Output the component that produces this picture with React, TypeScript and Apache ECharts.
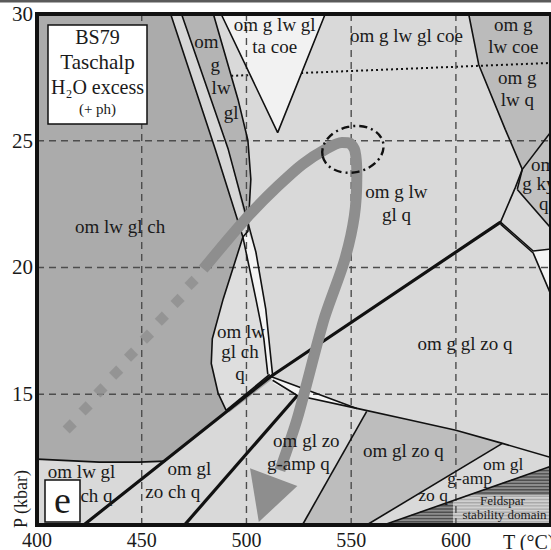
import React, { useEffect, useRef } from "react";
import * as echarts from "echarts";

const T_MIN = 400;
const T_MAX = 645.4;
const P_MIN = 9.84;
const P_MAX = 30;

const xTickValues = [400, 450, 500, 550, 600];
const yTickValues = [15, 20, 25, 30];
const xGridValues = [450, 500, 550, 600];
const yGridValues = [15, 20, 25];

// ---- field polygons (T °C, P kbar) ----
const regLightStrip = [[463.8, 30], [469.0, 30], [491.3, 24.66], [500.7, 21.43], [498.3, 21.2], [485.1, 24.66]];
const regOmLwGlCh = [[400, 30], [463.8, 30], [485.1, 24.66], [498.3, 21.2], [488.9, 18.76], [483.7, 17.19], [483.2, 16.21], [486.5, 15.03], [490.3, 14.36], [461.5, 12.36], [448.7, 12.32], [429.8, 12.32], [400, 12.44]];
const regOmGLwGl = [[469.0, 30], [484.2, 30], [496.0, 26.62], [500.7, 25.01], [502.1, 23.48], [500.7, 21.43], [491.3, 24.66]];
const regWhiteStrip = [[498.3, 21.2], [500.7, 21.43], [504.5, 20.61], [509.2, 18.37], [512.5, 15.74], [510.2, 15.78], [508.3, 17.19], [504.5, 18.76]];
const regLens = [[498.3, 21.2], [504.5, 18.76], [508.3, 17.19], [510.2, 15.78], [490.3, 14.36], [486.5, 15.03], [483.2, 16.21], [483.7, 17.19], [488.9, 18.76]];
const regSmallStrip = [[490.3, 14.36], [511.1, 15.78], [512.1, 15.58], [491.7, 14.28]];
const regWhiteWedge = [[511.6, 15.7], [552.7, 14.44], [524.3, 14.95], [513.0, 15.42]];
const regOmGLwCoe = [[606.1, 30], [645.4, 30], [645.4, 25.36], [631.7, 23.87], [623.6, 25.44], [610.9, 28.0]];
const regOmGKyQ = [[631.7, 23.87], [645.4, 25.36], [645.4, 21.55], [629.3, 23.08]];
const regWhiteRight = [[636.9, 20.65], [645.4, 20.73], [645.4, 18.92]];
const regOmGlZoQ = [[557.4, 14.32], [576.4, 14.01], [600, 13.58], [622.2, 13.06], [557.4, 9.84], [526.7, 9.84]];
const regFeldspar = [[565.5, 9.84], [645.4, 12.16], [645.4, 9.84]];
const regFeldsparBox = [[598.6, 10.76], [607.1, 11.02], [645.4, 11.02], [645.4, 9.84], [598.6, 9.84]];
const regTaCoe = [[487.9, 30], [537.6, 30], [514.9, 25.32]];

// ---- boundaries ----
const bMain = [[421.7, 9.8], [511.6, 15.7], [621.3, 21.79]];
const bSecond = [[470.0, 9.8], [524.3, 14.95]];
const bL1 = [[463.8, 30], [485.1, 24.66], [498.3, 21.2], [504.5, 18.76], [508.3, 17.19], [510.2, 15.78]];
const bL2 = [[469.0, 30], [491.3, 24.66], [504.5, 20.61], [509.2, 18.37], [512.5, 15.74]];
const bL3 = [[484.2, 30], [496.0, 26.62], [500.7, 25.01], [502.1, 23.48], [500.7, 21.43], [498.3, 21.2], [488.9, 18.76], [483.7, 17.19], [483.2, 16.21], [486.5, 15.03], [490.3, 14.36]];
const bStripTop = [[490.3, 14.36], [511.1, 15.78]];
const bV = [[487.9, 30], [514.9, 25.32], [537.6, 30]];
const bZoTop = [[511.6, 15.7], [552.7, 14.44], [576.4, 14.01], [600, 13.58], [622.2, 13.06], [645.4, 12.5]];
const bWedgeLow = [[512.5, 15.55], [524.3, 14.95], [552.7, 14.44]];
const bZoLeft = [[557.4, 14.32], [526.7, 9.84]];
const bZoRight = [[622.2, 13.06], [557.4, 9.84]];
const bFeldspar = [[565.5, 9.84], [645.4, 12.16]];
const bLowCurve = [[400, 12.44], [429.8, 12.32], [448.7, 12.32], [461.5, 12.36]];
const bUR1 = [[606.1, 30], [610.9, 28.0], [623.6, 25.44], [631.7, 23.87], [629.3, 23.08]];
const bUR2 = [[645.4, 25.36], [631.7, 23.87], [628.4, 23.16], [621.3, 21.79]];
const bKy = [[629.3, 23.08], [645.4, 21.55]];
const bLRa = [[621.3, 21.79], [636.9, 20.65], [645.4, 20.73]];
const bLRb = [[621.3, 21.71], [636.9, 20.57], [645.4, 18.92]];
const bDotted = [[492.7, 27.56], [645.4, 28.07]];

// ---- P-T path ----
const pathDots = [[415.6, 13.73], [423.2, 14.44], [430.3, 15.15], [437.8, 15.85], [444.9, 16.56], [452.5, 17.27], [459.6, 17.98], [467.1, 18.68], [473.8, 19.39]];
const pathSolid = [[479.4, 19.94], [491.3, 21.12], [502.1, 22.14], [514.9, 23.2], [526.7, 24.07], [538.5, 24.7], [545.6, 24.93], [549.4, 24.9], [551.8, 24.6], [552.7, 23.67], [551.5, 22.02], [546.6, 20.22], [537.1, 17.98], [524.3, 14.05], [516.0, 12.0]];
const arrowHead = [[501.7, 12.08], [524.3, 11.38], [505.9, 9.96]];
const peakEllipse = [[550.8, 24.66]];

// ---- field labels ----
const fieldLabels: [number, number, string][] = [
  [513.5, 29.57, "om g lw gl"],
  [513.5, 28.7, "ta coe"],
  [576.4, 29.14, "om g lw gl coe"],
  [627.4, 29.57, "om g"],
  [627.4, 28.7, "lw coe"],
  [629.3, 27.49, "om g"],
  [629.3, 26.62, "lw q"],
  [571.6, 23.01, "om g lw"],
  [571.6, 22.1, "gl q"],
  [439.7, 21.63, "om lw gl ch"],
  [480.9, 28.9, "om"],
  [485.1, 28.0, "g"],
  [487.9, 27.09, "lw"],
  [492.7, 26.11, "gl"],
  [497.4, 17.47, "om lw"],
  [496.9, 16.68, "gl ch"],
  [496.9, 15.82, "q"],
  [604.3, 17.0, "om g gl zo q"],
  [528.6, 13.18, "om gl zo"],
  [524.8, 12.28, "g-amp q"],
  [574.9, 12.79, "om gl zo q"],
  [421.3, 11.96, "om lw gl"],
  [428.4, 11.02, "ch q"],
  [472.8, 12.08, "om gl"],
  [464.8, 11.18, "zo ch q"],
];
const wedgeLabels: [number, number, string][] = [
  [622.6, 12.24, "om gl"],
  [606.6, 11.69, "g-amp"],
  [589.1, 11.02, "zo q"],
];
const edgeLabels: [number, number, string][] = [
  [635.9, 24.07, "om"],
  [631.7, 23.32, "g ky"],
  [639.7, 22.53, "q"],
];
const smallLabels: [number, number, string][] = [
  [622.2, 10.79, "Feldspar"],
  [623.2, 10.24, "stability domain"],
];

const SERIF = '"Liberation Serif", "DejaVu Serif", serif';

function polySeries(list: { pts: number[][]; fill: string }[], z: number) {
  return {
    type: "custom",
    z,
    silent: true,
    clip: true,
    data: list.map(() => [T_MIN, P_MIN]),
    renderItem: (params: any, api: any) => {
      const r = list[params.dataIndex];
      return {
        type: "polygon",
        shape: { points: r.pts.map((p) => api.coord(p)) },
        style: { fill: r.fill, stroke: "none" },
      };
    },
  };
}

function hatchSeries(pts: number[][], slope: number[][], base: string, stripe: string, leftT: number | null, z: number) {
  return {
    type: "custom",
    z,
    silent: true,
    clip: true,
    data: [[T_MIN, P_MIN]],
    renderItem: (params: any, api: any) => {
      const a = api.coord(slope[0]);
      const b = api.coord(slope[1]);
      const poly = pts.map((p) => api.coord(p));
      const bottom = api.coord([T_MIN, P_MIN])[1];
      const right = api.coord([T_MAX, P_MIN])[0];
      let top = Infinity;
      poly.forEach((p: number[]) => (top = Math.min(top, p[1])));
      const leftX = leftT == null ? -Infinity : api.coord([leftT, P_MIN])[0];
      const children: any[] = [
        { type: "polygon", shape: { points: poly }, style: { fill: base } },
      ];
      for (let y = top + 1.2; y < bottom; y += 3.2) {
        const t = (a[1] - y) / (a[1] - b[1]);
        const xs = Math.max(a[0] + t * (b[0] - a[0]), leftX);
        children.push({
          type: "line",
          shape: { x1: xs, y1: y, x2: right, y2: y },
          style: { stroke: stripe, lineWidth: 1.4 },
        });
      }
      return { type: "group", children };
    },
  };
}

function lineSeries(data: number[][], width: number, z: number, color = "#111", type: any = "solid") {
  return {
    type: "line",
    data,
    z,
    silent: true,
    showSymbol: false,
    symbol: "none",
    clip: true,
    lineStyle: { color, width, type, cap: "butt" },
  };
}

function textSeries(list: [number, number, string][], size: number, align: string, z: number) {
  return {
    type: "custom",
    z,
    silent: true,
    clip: true,
    data: list.map((d) => [d[0], d[1]]),
    renderItem: (params: any, api: any) => {
      const d = list[params.dataIndex];
      const c = api.coord([d[0], d[1]]);
      return {
        type: "text",
        x: c[0],
        y: c[1],
        style: {
          text: d[2],
          fontSize: size,
          fontFamily: SERIF,
          fill: "#1a1a1a",
          align,
          verticalAlign: "middle",
        },
      };
    },
  };
}

export default function App() {
  const ref = useRef<HTMLDivElement>(null);
  useEffect(() => {
    document.body.style.margin = "0";
    const chart = echarts.init(ref.current!, null, { renderer: "svg" });

    const baseRegions = [
      { pts: regLightStrip, fill: "#d7d7d7" },
      { pts: regOmLwGlCh, fill: "#ababab" },
      { pts: regOmGLwGl, fill: "#b4b4b4" },
      { pts: regWhiteStrip, fill: "#f4f4f4" },
      { pts: regLens, fill: "#dedede" },
      { pts: regSmallStrip, fill: "#a5a5a5" },
      { pts: regWhiteWedge, fill: "#f4f4f4" },
      { pts: regOmGLwCoe, fill: "#bbbbbb" },
      { pts: regOmGKyQ, fill: "#c0c0c0" },
      { pts: regWhiteRight, fill: "#f4f4f4" },
      { pts: regOmGlZoQ, fill: "#bdbdbd" },
    ];

    const series: any[] = [
      polySeries(baseRegions, 1),
      hatchSeries(regFeldspar, bFeldspar, "#8d8d8d", "#4f4f4f", null, 1),
      hatchSeries(regFeldsparBox, bFeldspar, "#d0d0d0", "#a9a9a9", 598.6, 1),
      lineSeries(bDotted, 2, 2, "#111", [2, 3]),
      polySeries([{ pts: regTaCoe, fill: "#f2f2f2" }], 3),
    ];
    xGridValues.forEach((x) => series.push(lineSeries([[x, P_MIN], [x, P_MAX]], 1.4, 4, "#4d4d4d", [7, 5])));
    yGridValues.forEach((y) => series.push(lineSeries([[T_MIN, y], [T_MAX, y]], 1.4, 4, "#4d4d4d", [7, 5])));

    [bMain, bSecond].forEach((b) => series.push(lineSeries(b, 3.2, 5)));
    [bL1, bL2, bL3, bStripTop, bV, bZoTop, bWedgeLow, bZoLeft, bZoRight, bFeldspar, bLowCurve, bUR1, bUR2, bKy, bLRa, bLRb].forEach((b) =>
      series.push(lineSeries(b, 1.6, 5))
    );

    // P-T path
    series.push({
      type: "line",
      data: pathSolid,
      z: 6,
      silent: true,
      showSymbol: false,
      symbol: "none",
      smooth: 0.25,
      lineStyle: { color: "#8e8e8e", width: 11, cap: "butt" },
    });
    series.push(polySeries([{ pts: arrowHead, fill: "#8e8e8e" }], 6));
    series.push({
      type: "scatter",
      data: pathDots,
      z: 6,
      silent: true,
      symbol: "rect",
      symbolSize: 10,
      symbolRotate: 45,
      itemStyle: { color: "#8e8e8e" },
    });
    series.push({
      type: "custom",
      z: 7,
      silent: true,
      data: peakEllipse,
      renderItem: (params: any, api: any) => {
        const c = api.coord(peakEllipse[params.dataIndex]);
        return {
          type: "ellipse",
          x: c[0],
          y: c[1],
          rotation: 0.22,
          shape: { cx: 0, cy: 0, rx: 31, ry: 23 },
          style: { fill: "none", stroke: "#111", lineWidth: 2.4, lineDash: [8, 4, 2, 4] },
        };
      },
    });

    series.push(textSeries(fieldLabels, 19, "center", 8));
    series.push(textSeries(wedgeLabels, 17.5, "center", 8));
    series.push(textSeries(edgeLabels, 19, "left", 8));
    series.push(textSeries(smallLabels, 13, "center", 8));

    // frame
    series.push({
      type: "custom",
      z: 9,
      silent: true,
      clip: false,
      data: [[T_MIN, P_MIN]],
      renderItem: (params: any, api: any) => {
        const a = api.coord([T_MIN, P_MAX]);
        const b = api.coord([T_MAX, P_MIN]);
        return {
          type: "rect",
          shape: { x: a[0], y: a[1], width: b[0] - a[0], height: b[1] - a[1] },
          style: { fill: "none", stroke: "#111", lineWidth: 4 },
        };
      },
    });

    const option: any = {
      animation: false,
      backgroundColor: "#ffffff",
      grid: { left: 37, right: -5, top: 14, bottom: 23, show: true, backgroundColor: "#d9d9d9", borderWidth: 0 },
      xAxis: {
        type: "value",
        min: T_MIN,
        max: T_MAX,
        axisLine: { show: false },
        axisTick: { show: false },
        splitLine: { show: false },
        axisLabel: {
          customValues: xTickValues,
          fontSize: 20,
          fontFamily: SERIF,
          color: "#1a1a1a",
          margin: 5,
        },
      },
      yAxis: {
        type: "value",
        min: P_MIN,
        max: P_MAX,
        axisLine: { show: false },
        axisTick: { show: false },
        splitLine: { show: false },
        axisLabel: {
          customValues: yTickValues,
          fontSize: 21,
          fontFamily: SERIF,
          color: "#1a1a1a",
          margin: 4,
        },
      },
      graphic: [
        { type: "rect", z: 100, shape: { x: 0, y: 0, width: 551, height: 2.5 }, style: { fill: "#5a5a5a" } },
        { type: "rect", z: 100, shape: { x: 48, y: 25, width: 99, height: 99 }, style: { fill: "#ffffff", stroke: "#111", lineWidth: 1.5 } },
        { type: "text", z: 101, x: 97.5, y: 37, style: { text: "BS79", fontSize: 20, fontFamily: SERIF, fill: "#1a1a1a", align: "center", verticalAlign: "middle" } },
        { type: "text", z: 101, x: 97.5, y: 62, style: { text: "Taschalp", fontSize: 21, fontFamily: SERIF, fill: "#1a1a1a", align: "center", verticalAlign: "middle" } },
        { type: "text", z: 101, x: 97.5, y: 87, style: { text: "H₂O excess", fontSize: 20, fontFamily: SERIF, fill: "#1a1a1a", align: "center", verticalAlign: "middle" } },
        { type: "text", z: 101, x: 97.5, y: 109, style: { text: "(+ ph)", fontSize: 15, fontFamily: SERIF, fill: "#1a1a1a", align: "center", verticalAlign: "middle" } },
        { type: "rect", z: 100, shape: { x: 45, y: 480, width: 35, height: 42 }, style: { fill: "#ffffff", stroke: "#111", lineWidth: 1.5 } },
        { type: "text", z: 101, x: 62.5, y: 500, style: { text: "e", fontSize: 38, fontFamily: SERIF, fill: "#1a1a1a", align: "center", verticalAlign: "middle" } },
        { type: "text", z: 101, x: 503, y: 542, style: { text: "T (°C)", fontSize: 20, fontFamily: SERIF, fill: "#1a1a1a", align: "left", verticalAlign: "middle" } },
        { type: "text", z: 101, x: 21, y: 499, rotation: Math.PI / 2, style: { text: "P (kbar)", fontSize: 18, fontFamily: SERIF, fill: "#1a1a1a", align: "center", verticalAlign: "middle" } },
      ],
      series,
    };
    chart.setOption(option);
    return () => chart.dispose();
  }, []);
  return <div ref={ref} style={{ width: 551, height: 550 }} />;
}
